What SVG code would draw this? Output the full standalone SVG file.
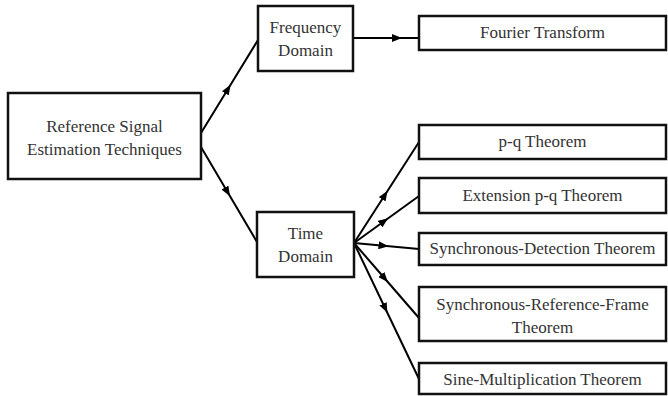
<svg xmlns="http://www.w3.org/2000/svg" width="668" height="396" viewBox="0 0 668 396">
<defs>
<marker id="ah" viewBox="0 0 10 8" refX="8" refY="4" markerWidth="10" markerHeight="8" markerUnits="userSpaceOnUse" orient="auto">
<path d="M0,0 L10,4 L0,8 Z" fill="#000"/>
</marker>
<style>
.box{fill:#fff;stroke:#111;stroke-width:2.5}
.t{font-family:"Liberation Serif","Times New Roman",serif;font-size:17px;fill:#333;text-anchor:middle}
.c{fill:none;stroke:#000;stroke-width:2;marker-mid:url(#ah)}
</style>
</defs>
<rect width="668" height="396" fill="#fff"/>
<g id="connectors">
<path class="c" d="M201,133 L229.5,86.5 L258,40"/>
<path class="c" d="M201,147 L229,194.5 L257,242"/>
<path class="c" d="M353,38 L400,38 L419,38"/>
<path class="c" d="M354,243 L386.5,192.5 L419,142"/>
<path class="c" d="M354,243 L386.5,219.5 L419,196"/>
<path class="c" d="M354,243 L386.5,246 L419,249"/>
<path class="c" d="M354,243 L386.5,280.5 L419,318"/>
<path class="c" d="M354,243 L386.5,311 L419,379"/>
</g>
<g id="root">
<rect class="box" x="8" y="93" width="193" height="86"/>
<text class="t" x="104.5" y="132">Reference Signal</text>
<text class="t" x="104.5" y="155">Estimation Techniques</text>
</g>
<g id="freq">
<rect class="box" x="258" y="6" width="95" height="65"/>
<text class="t" x="305.5" y="33">Frequency</text>
<text class="t" x="305.5" y="56">Domain</text>
</g>
<g id="fourier">
<rect class="box" x="419" y="16" width="247" height="34"/>
<text class="t" x="542.5" y="38">Fourier Transform</text>
</g>
<g id="time">
<rect class="box" x="257" y="212" width="97" height="65"/>
<text class="t" x="305.5" y="239">Time</text>
<text class="t" x="305.5" y="262">Domain</text>
</g>
<g id="pq">
<rect class="box" x="419" y="125" width="247" height="34"/>
<text class="t" x="542.5" y="147">p-q Theorem</text>
</g>
<g id="extpq">
<rect class="box" x="419" y="178" width="247" height="35"/>
<text class="t" x="542.5" y="201">Extension p-q Theorem</text>
</g>
<g id="syncdet">
<rect class="box" x="419" y="233" width="247" height="32"/>
<text class="t" x="542.5" y="254">Synchronous-Detection Theorem</text>
</g>
<g id="srf">
<rect class="box" x="419" y="287" width="247" height="54"/>
<text class="t" x="542.5" y="310">Synchronous-Reference-Frame</text>
<text class="t" x="542.5" y="333">Theorem</text>
</g>
<g id="sine">
<rect class="box" x="419" y="363" width="247" height="31"/>
<text class="t" x="542.5" y="385">Sine-Multiplication Theorem</text>
</g>
</svg>
